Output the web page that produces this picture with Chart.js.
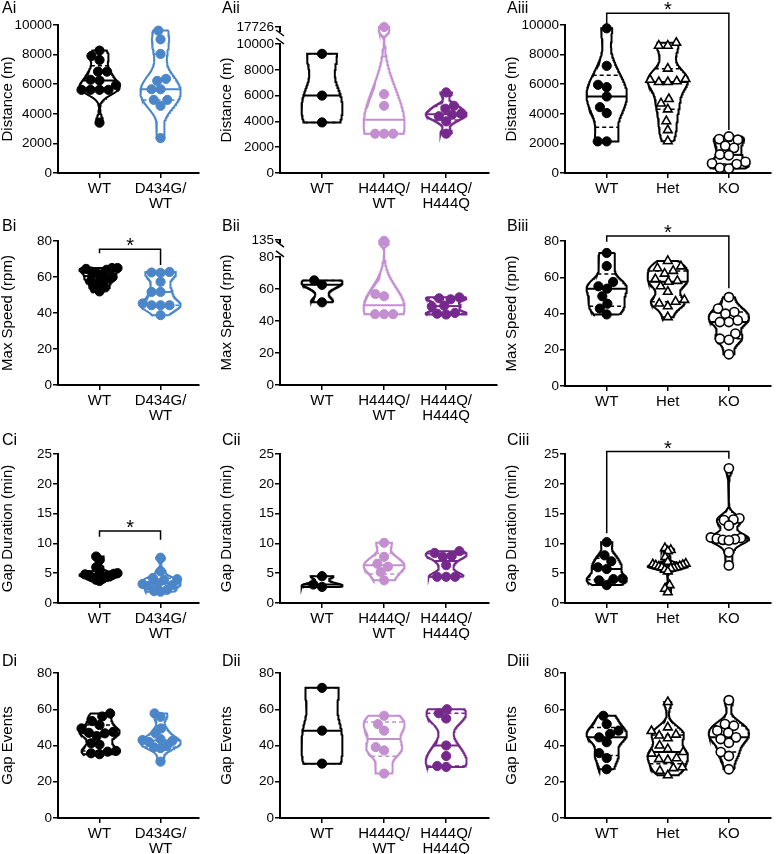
<!DOCTYPE html>
<html>
<head>
<meta charset="utf-8">
<script src="https://cdn.jsdelivr.net/npm/chart.js@4.4.1/dist/chart.umd.min.js"></script>
<style>
body { margin: 0; background: #fff; }
#fig { position: relative; width: 777px; height: 854px; overflow: hidden; font-family: 'Liberation Sans', Arial, sans-serif; }
#fig canvas { position: absolute; }
.lab { position: absolute; font-size: 16px; line-height: 16px; color: #000; }
</style>
</head>
<body>
<div id="fig"></div>
<script>
// category labels
const catsD434G = ['WT', ['D434G/', 'WT']];
const catsH444Q = ['WT', ['H444Q/', 'WT'], ['H444Q/', 'H444Q']];
const catsKO = ['WT', 'Het', 'KO'];

// tick labels
const ticksDist = [0, 2000, 4000, 6000, 8000, 10000];
const ticksDistBroken = [0, 2000, 4000, 6000, 8000, 10000, 17726];
const ticksSpeed = [0, 20, 40, 60, 80];
const ticksSpeedBroken = [0, 20, 40, 60, 80, 135];
const ticksGapDur = [0, 5, 10, 15, 20, 25];
const ticksGapEv = [0, 20, 40, 60, 80];

// A: distance (m)
const distWT1 = [8270, 7910, 7640, 6850, 6850, 6300, 6250, 5950, 5620, 5620, 5620, 5620, 3400];
const distD434G = [9620, 9030, 8045, 6360, 6225, 5660, 5660, 4940, 4940, 4540, 2360];
const distWT2 = [9240, 6000, 3920];
const distH444QWT = [17726, 6115, 5210, 3045, 3045, 3045];
const distH444QHom = [6245, 5210, 4980, 4600, 4520, 4400, 4000, 3050];
const distWT3 = [9775, 7240, 5960, 5800, 5170, 4450, 4050, 2135, 2135];
const distHet = [8800, 8600, 8600, 7050, 6350, 6300, 6200, 6150, 6150, 5000, 4700, 4300, 3500, 2900, 2150];
const distKO = [2470, 2290, 2250, 1840, 1700, 1250, 1200, 750, 650, 600, 350, 300];

// B: max speed (rpm)
const speedWT1 = [65, 65, 64.5, 64, 63, 62, 61, 60, 59, 58, 57, 55, 54, 52];
const speedD434G = [62.8, 62.5, 62.3, 57.3, 51.7, 51.7, 45.3, 44.3, 44.3, 44.3, 38.8];
const speedWT2 = [65.3, 62.5, 51.6];
const speedH444QWT = [134.5, 56.8, 55.4, 44.2, 44.2, 44.2];
const speedH444QHom = [54.7, 54.1, 53.5, 49.5, 49, 45, 44.5, 44];
const speedWT3 = [73.4, 66.2, 57.4, 55, 53.7, 49.5, 45.4, 42.7, 39.5];
const speedHet = [69, 66, 65, 63.5, 62, 59, 58, 57.5, 55, 52, 47.5, 46.5, 45.5, 44, 38];
const speedKO = [49, 42.7, 40.8, 39.9, 36.2, 35.3, 35.3, 28.9, 26.1, 25.5, 17.5];

// C: gap duration (min)
const gapDurWT1 = [7.8, 7.2, 6.0, 5.3, 5.0, 4.9, 4.8, 4.7, 4.6, 4.5, 4.3, 4.1, 3.9, 3.7];
const gapDurD434G = [7.6, 5.3, 4.2, 4.0, 3.9, 3.3, 3.2, 3.0, 2.9, 2.2, 2.0, 1.9];
const gapDurWT2 = [4.5, 3.1, 2.7];
const gapDurH444QWT = [10.1, 7.75, 6.6, 6.1, 5.2, 3.8];
const gapDurH444QHom = [8.7, 8.4, 7.9, 7.75, 6.35, 4.4, 4.4, 4.4];
const gapDurWT3 = [10.2, 8.0, 7.0, 6.0, 5.7, 4.1, 4.0, 3.8, 3.0];
const gapDurHet = [9.2, 8.9, 8.7, 7.7, 6.9, 6.6, 6.5, 6.4, 6.3, 6.2, 6.1, 6.0, 6.0, 5.9, 5.8, 5.6, 5.3, 3.0, 2.4, 1.8];
const gapDurKO = [22.6, 14.2, 14.0, 13.9, 13.0, 11.0, 10.9, 10.8, 10.7, 10.6, 10.5, 8.5, 6.3];

// D: gap events
const gapEvWT1 = [57.7, 56, 53.5, 51.3, 49.4, 47.5, 47, 46.7, 45.2, 41.2, 40.5, 37, 36.6, 35.7, 35.2];
const gapEvD434G = [57.7, 55.8, 49.4, 46.7, 43.5, 43.0, 42.5, 42.0, 39.7, 39.0, 38.5, 31.1];
const gapEvWT2 = [71.8, 48.2, 30];
const gapEvH444QWT = [56.4, 51.8, 48.2, 39.1, 37.3, 24.5];
const gapEvH444QHom = [60, 57.8, 54.9, 40, 34.2, 28.7, 28.2];
const gapEvWT3 = [56.4, 51.8, 48.2, 46.4, 44.5, 41.8, 35.8, 33.1, 26.9];
const gapEvHet = [64, 50, 48, 46, 45.5, 44, 40, 38, 36.4, 35.5, 33, 32.5, 32, 28, 27.5, 26, 23.6];
const gapEvKO = [65, 51.8, 50.9, 48.2, 47, 44.5, 43.6, 41.5, 36.4, 34.2, 26.9];

const FONT = "'Liberation Sans', Arial, Helvetica, sans-serif";
Chart.defaults.font.family = FONT;
Chart.defaults.color = '#000';

const BLACK = '#000000', BLUE = '#4a86c8', LILAC = '#c48fd0', PURPLE = '#76298c';
const sWT = {color: BLACK, fill: BLACK, shape: 'circle'};
const sD434G = {color: BLUE, fill: BLUE, shape: 'circle'};
const sHetH = {color: LILAC, fill: LILAC, shape: 'circle'};
const sHomH = {color: PURPLE, fill: PURPLE, shape: 'circle'};
const sHet = {color: BLACK, fill: '#fff', shape: 'triangle', open: true};
const sKO = {color: BLACK, fill: '#fff', shape: 'circle', open: true};

// y scale with a break (Prism style split axis)
class BrokenLinearScale extends Chart.LinearScale {
    fwd(v) {
        const b = this.options.brk;
        if (!b || v <= b.from) return v;
        if (v < b.to) return b.from + (v - b.from) / (b.to - b.from) * b.gap;
        return b.from + b.gap + (v - b.to) * b.k;
    }
    getPixelForValue(value) {
        if (value === null || value === undefined) return NaN;
        const t0 = this.fwd(this.min), t1 = this.fwd(this.max);
        return this.getPixelForDecimal((this.fwd(value) - t0) / (t1 - t0));
    }
}
BrokenLinearScale.id = 'brokenLinear';
BrokenLinearScale.defaults = Chart.LinearScale.defaults;
Chart.register(BrokenLinearScale);

const extras = {
    id: 'extras',
    afterDraw(chart, args, o) {
        const {ctx, scales: {x, y}} = chart;
        ctx.save();
        ctx.lineWidth = 1.5;
        ctx.strokeStyle = '#000';
        if (o.brk) {
            const ax = chart.chartArea.left;
            const p1 = y.getPixelForValue(o.brk.from), p2 = y.getPixelForValue(o.brk.to);
            ctx.fillStyle = '#fff';
            ctx.fillRect(ax - 3, p2, 6, p1 - p2 - 1);
            ctx.beginPath();
            ctx.moveTo(ax - 4, p2 - 2); ctx.lineTo(ax + 4, p2 + 4);
            ctx.moveTo(ax - 4, p1 - 6); ctx.lineTo(ax + 4, p1);
            ctx.stroke();
        }
        ctx.fillStyle = '#000';
        ctx.font = '20px ' + FONT;
        ctx.textAlign = 'center';
        ctx.textBaseline = 'alphabetic';
        (o.sig || []).forEach(s => {
            const x1 = x.getPixelForValue(s.from), x2 = x.getPixelForValue(s.to);
            const yb = y.getPixelForValue(s.bar);
            ctx.beginPath();
            ctx.moveTo(x1, y.getPixelForValue(s.leg1));
            ctx.lineTo(x1, yb);
            ctx.lineTo(x2, yb);
            ctx.lineTo(x2, y.getPixelForValue(s.leg2));
            ctx.stroke();
            ctx.fillText('*', (x1 + x2) / 2, yb + 3);
        });
        ctx.restore();
    }
};

// Prism style quantile
function quant(vals, p) {
    const s = [...vals].sort((a, b) => a - b), n = s.length;
    const pos = p * (n + 1);
    if (pos <= 1) return s[0];
    if (pos >= n) return s[n - 1];
    const lo = Math.floor(pos), fr = pos - lo;
    return s[lo - 1] + fr * (s[lo] - s[lo - 1]);
}

function makeKde(vals) {
    const n = vals.length;
    const mean = vals.reduce((a, b) => a + b, 0) / n;
    const sd = Math.sqrt(vals.reduce((a, v) => a + (v - mean) ** 2, 0) / (n - 1));
    let spread = Math.min(sd, (quant(vals, 0.75) - quant(vals, 0.25)) / 1.34);
    if (!(spread > 0)) spread = sd;
    const h = 0.9 * spread * Math.pow(n, -0.2) * 0.65;
    return y => vals.reduce((a, v) => a + Math.exp(-0.5 * ((y - v) / h) ** 2), 0);
}

const col1 = {left: 0, axisX: 58, rightPx: 199, padR: 6, xMin: 0.32, xMax: 2.63, titlePad: 0, cats: catsD434G, lx: 2};
const col2 = {left: 215, axisX: 280, rightPx: 489, padR: 6, xMin: 0.323, xMax: 3.69, titlePad: 4.5, cats: catsH444Q, lx: 222};
const col3 = {left: 500, axisX: 565, rightPx: 777, padR: 0, xMin: 0.317, xMax: 3.68, titlePad: 4.5, cats: catsKO, lx: 507};
const rowA = {top: 0, bottom: 212, areaTop: 25, areaBottom: 173, ly: 0};
const rowB = {top: 212, bottom: 425, areaTop: 241, areaBottom: 385, ly: 218};
const rowC = {top: 425, bottom: 640, areaTop: 454, areaBottom: 603, ly: 432};
const rowD = {top: 640, bottom: 854, areaTop: 673, areaBottom: 818, ly: 653};

const panels = [
    {label: 'Ai', col: col1, row: rowA, yMax: 10000, yTicks: ticksDist, title: 'Distance (m)',
        groups: [[distWT1, sWT], [distD434G, sD434G]]},
    {label: 'Aii', col: col2, row: rowA, areaTop: 27, yMax: 17726, yTicks: ticksDistBroken, title: 'Distance (m)',
        brk: {from: 10000, to: 17300, gap: 930, k: 0.91},
        groups: [[distWT2, sWT], [distH444QWT, sHetH], [distH444QHom, sHomH]]},
    {label: 'Aiii', col: col3, row: rowA, yMax: 10000, yTicks: ticksDist, title: 'Distance (m)',
        groups: [[distWT3, sWT], [distHet, sHet], [distKO, sKO]],
        sig: [{from: 1, to: 3, bar: 10790, leg1: 10000, leg2: 2900}]},
    {label: 'Bi', col: col1, row: rowB, yMax: 80, yTicks: ticksSpeed, title: 'Max Speed (rpm)',
        groups: [[speedWT1, sWT], [speedD434G, sD434G]],
        sig: [{from: 1, to: 2, bar: 75.4, leg1: 73.2, leg2: 66.7}]},
    {label: 'Bii', col: col2, row: rowB, areaTop: 240, rightPx: 497, xMax: 3.82, yMax: 135, yTicks: ticksSpeedBroken, title: 'Max Speed (rpm)',
        brk: {from: 80, to: 133, gap: 8.5, k: 1},
        groups: [[speedWT2, sWT], [speedH444QWT, sHetH], [speedH444QHom, sHomH]]},
    {label: 'Biii', col: col3, row: rowB, areaBottom: 386, yMax: 80, yTicks: ticksSpeed, title: 'Max Speed (rpm)',
        groups: [[speedWT3, sWT], [speedHet, sHet], [speedKO, sKO]],
        sig: [{from: 1, to: 3, bar: 82.8, leg1: 79.6, leg2: 53.9}]},
    {label: 'Ci', col: col1, row: rowC, yMax: 25, yTicks: ticksGapDur, title: 'Gap Duration (min)',
        groups: [[gapDurWT1, sWT], [gapDurD434G, sD434G]],
        sig: [{from: 1, to: 2, bar: 12.1, leg1: 11.1, leg2: 10.6}]},
    {label: 'Cii', col: col2, row: rowC, yMax: 25, yTicks: ticksGapDur, title: 'Gap Duration (min)',
        groups: [[gapDurWT2, sWT], [gapDurH444QWT, sHetH], [gapDurH444QHom, sHomH]]},
    {label: 'Ciii', col: col3, row: rowC, yMax: 25, yTicks: ticksGapDur, title: 'Gap Duration (min)',
        groups: [[gapDurWT3, sWT], [gapDurHet, sHet], [gapDurKO, sKO]],
        sig: [{from: 1, to: 3, bar: 25.4, leg1: 11.7, leg2: 24.2}]},
    {label: 'Di', col: col1, row: rowD, yMax: 80, yTicks: ticksGapEv, title: 'Gap Events',
        groups: [[gapEvWT1, sWT], [gapEvD434G, sD434G]]},
    {label: 'Dii', col: col2, row: rowD, yMax: 80, yTicks: ticksGapEv, title: 'Gap Events',
        groups: [[gapEvWT2, sWT], [gapEvH444QWT, sHetH], [gapEvH444QHom, sHomH]]},
    {label: 'Diii', col: col3, row: rowD, yMax: 80, yTicks: ticksGapEv, title: 'Gap Events',
        groups: [[gapEvWT3, sWT], [gapEvHet, sHet], [gapEvKO, sKO]]}
];

const HW = 0.33;   // violin half width, in category units
const DOT = 9;     // marker spacing for the swarm, px
const SPREAD = 18; // widest swarm offset, px

function violinSets(vals, st, cat, samples) {
    const dens = makeKde(vals);
    const lo = Math.min(...vals), hi = Math.max(...vals);
    const ys = [];
    for (let i = 0; i <= samples; i++) ys.push(lo + (hi - lo) * i / samples);
    const top = Math.max(...ys.map(dens));
    const half = y => dens(y) / top * HW;
    const right = ys.map(y => ({x: cat + half(y), y}));
    const left = ys.slice().reverse().map(y => ({x: cat - half(y), y}));
    const line = (v, w, dash) => ({
        data: [{x: cat - half(v), y: v}, {x: cat + half(v), y: v}],
        showLine: true, borderColor: st.color, borderWidth: w, borderDash: dash,
        pointRadius: 0, pointHitRadius: 0, order: 1, clip: false
    });
    return [
        {data: right.concat(left, [right[0]]), showLine: true, borderColor: st.color, borderWidth: 2,
            pointRadius: 0, pointHitRadius: 0, order: 2, clip: false, fill: false},
        line(quant(vals, 0.5), 2, []),
        line(quant(vals, 0.25), 1.5, [4, 3]),
        line(quant(vals, 0.75), 1.5, [4, 3])
    ];
}

function swarm(chart, cat, vals) {
    const xs = chart.scales.x, ys = chart.scales.y;
    const ux = xs.getPixelForValue(cat + 1) - xs.getPixelForValue(cat);
    const idx = vals.map((v, i) => i).sort((a, b) => vals[a] - vals[b]);
    const placed = [], off = [];
    idx.forEach(i => {
        const py = ys.getPixelForValue(vals[i]);
        const near = placed.filter(q => Math.abs(q.py - py) < DOT);
        const cands = [0];
        near.forEach(q => {
            const dx = Math.sqrt(DOT * DOT - (q.py - py) ** 2);
            cands.push(q.dx + dx, q.dx - dx);
        });
        cands.sort((a, b) => Math.abs(a) - Math.abs(b) || a - b);
        const best = cands.find(c => near.every(q => (c - q.dx) ** 2 + (q.py - py) ** 2 >= DOT * DOT - 0.5));
        placed.push({py, dx: best});
        off[i] = best;
    });
    // squeeze wide swarms into the violin, letting markers overlap
    const widest = Math.max(...off.map(Math.abs));
    const f = widest > SPREAD ? SPREAD / widest : 1;
    return off.map(d => d * f / ux);
}

const fig = document.getElementById('fig');

panels.forEach(p => {
    const c = p.col, r = p.row;
    const areaTop = p.areaTop ?? r.areaTop, areaBottom = p.areaBottom ?? r.areaBottom;
    const rightPx = p.rightPx ?? c.rightPx, xMax = p.xMax ?? c.xMax;
    const cv = document.createElement('canvas');
    const w = rightPx - c.left + c.padR, h = r.bottom - r.top;
    cv.width = w; cv.height = h;
    cv.style.left = c.left + 'px'; cv.style.top = r.top + 'px';
    fig.appendChild(cv);

    const lab = document.createElement('div');
    lab.className = 'lab';
    lab.textContent = p.label;
    lab.style.left = c.lx + 'px';
    lab.style.top = r.ly + 'px';
    fig.appendChild(lab);

    const datasets = [];
    const pointSets = [];
    p.groups.forEach(([vals, st], i) => {
        const cat = i + 1;
        const ps = {
            data: vals.map(v => ({x: cat, y: v})),
            pointStyle: st.shape, pointRadius: st.shape === 'triangle' ? 5 : 4.6,
            pointBackgroundColor: st.fill, pointBorderColor: st.color,
            pointBorderWidth: st.open ? 1.6 : 1, pointHitRadius: 0,
            order: 0, clip: false
        };
        pointSets.push([ps, cat, vals]);
        datasets.push(ps);
        datasets.push(...violinSets(vals, st, cat, p.brk ? 400 : 120));
    });

    const axisStyle = {
        grid: {display: true, drawOnChartArea: false, drawTicks: true, tickLength: 5, color: '#000', lineWidth: 1.5},
        border: {display: true, color: '#000', width: 2}
    };

    const chart = new Chart(cv, {
        type: 'scatter',
        data: {datasets},
        options: {
            responsive: false,
            animation: false,
            events: [],
            layout: {padding: {top: areaTop - r.top, right: c.padR, bottom: 0, left: 0}},
            plugins: {
                legend: {display: false},
                tooltip: {enabled: false},
                extras: {sig: p.sig, brk: p.brk}
            },
            scales: {
                x: {
                    type: 'linear', min: c.xMin, max: xMax,
                    afterBuildTicks: s => { s.ticks = c.cats.map((t, i) => ({value: i + 1})); },
                    afterFit: s => { s.height = r.bottom - areaBottom; },
                    ticks: {
                        autoSkip: false, maxRotation: 0, minRotation: 0, padding: 3, color: '#000',
                        font: {size: 15, lineHeight: 1},
                        callback: v => c.cats[Math.round(v) - 1]
                    },
                    ...axisStyle
                },
                y: {
                    type: p.brk ? 'brokenLinear' : 'linear', min: 0, max: p.yMax,
                    brk: p.brk,
                    afterBuildTicks: s => { s.ticks = p.yTicks.map(v => ({value: v})); },
                    afterFit: s => { s.width = c.axisX - c.left; },
                    ticks: {padding: 1, color: '#000', font: {size: 13.5}, callback: v => String(v)},
                    title: {
                        display: true, text: p.title, color: '#000',
                        font: {size: 15, lineHeight: 1}, padding: {top: c.titlePad, bottom: 0}
                    },
                    ...axisStyle
                }
            }
        },
        plugins: [extras]
    });

    pointSets.forEach(([ps, cat, vals]) => {
        const off = swarm(chart, cat, vals);
        ps.data = vals.map((v, i) => ({x: cat + off[i], y: v}));
    });
    chart.update('none');
});
</script>
</body>
</html>
